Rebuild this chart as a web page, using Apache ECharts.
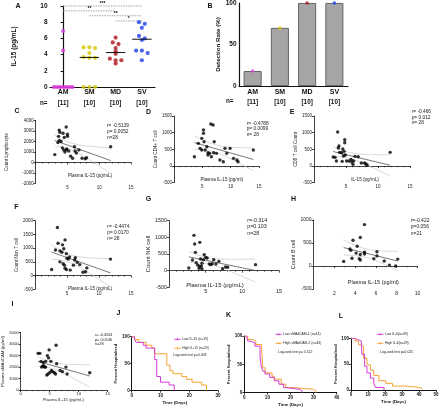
<!DOCTYPE html>
<html><head><meta charset="utf-8">
<script src="https://cdn.jsdelivr.net/npm/echarts@6/dist/echarts.min.js"></script>
<style>html,body{margin:0;padding:0;background:#fff}#c{width:440px;height:410px}</style>
</head><body><div id="c"></div><script>
// ================= DATA =================
const groups = ['AM', 'SM', 'MD', 'SV'];
const groupN = ['[11]', '[10]', '[10]', '[10]'];
const il15AM = [6.9, 4.5, 0, 0, 0, 0, 0, 0, 0, 0, 0];
const il15SM = [4.9, 4.9, 4.8, 4.2, 3.7, 3.6, 3.6, 0, 0, 0];
const il15MD = [6.1, 5.5, 5.3, 4.8, 4.4, 4.1, 3.5, 3.3, 3.3, 2.9];
const il15SV = [8.0, 7.8, 7.3, 6.3, 6.0, 5.8, 4.5, 4.5, 4.2, 3.3];
const sigPairs = [['AM', 'SV', '***'], ['AM', 'MD', '**'], ['SM', 'SV', '**'], ['MD', 'SV', '*']];
const detectionRate = [18, 70, 100, 100];

const lymphocyte = [[3.0,750],[3.5,1900],[3.7,2100],[3.6,2500],[3.8,2900],[3.7,3100],[4.0,2000],[4.3,2800],[4.5,2400],[4.8,3400],[5.0,2700],[5.0,2500],[4.2,1400],[4.4,1200],[4.6,1000],[4.8,1200],[5.2,1100],[4.9,1300],[5.5,600],[5.8,400],[6.1,1500],[6.2,1100],[6.4,900],[6.8,1200],[7.3,400],[7.8,350],[8.0,450],[11.8,1500]];
const cd4 = [[3.6,280],[4.3,680],[4.6,530],[4.9,830],[5.2,980],[5.2,1080],[5.8,580],[5.3,730],[6.5,1260],[6.9,1230],[6.3,380],[6.6,280],[6.0,400],[7.1,730],[7.0,400],[7.5,380],[8.1,180],[8.7,130],[9.0,530],[9.3,380],[9.9,530],[10.5,230],[11.1,180],[11.3,130],[14.0,480],[5.5,480],[6.0,330],[4.9,480]];
const cd8 = [[3.0,270],[3.5,150],[3.7,1020],[3.8,540],[3.9,600],[4.0,410],[4.3,400],[4.5,510],[4.6,300],[4.7,440],[4.8,790],[4.8,700],[4.9,330],[5.1,150],[5.5,150],[5.8,200],[5.9,120],[6.1,50],[6.2,150],[6.4,290],[6.9,280],[7.4,90],[7.9,90],[8.1,60],[8.3,30],[11.9,410],[3.3,260],[4.4,140]];
const nonT = [[2.6,220],[3.5,1750],[3.2,930],[3.6,1180],[3.9,900],[4.2,850],[4.3,1120],[4.5,980],[4.7,1300],[4.9,800],[5.0,630],[5.2,600],[5.4,680],[4.4,430],[4.6,380],[4.7,270],[4.9,220],[5.5,200],[6.0,380],[6.2,570],[6.3,650],[6.6,480],[7.0,400],[7.5,120],[7.9,140],[8.1,280],[11.8,600],[3.9,500]];
const nk = [[2.7,80],[3.4,1060],[3.5,800],[3.6,550],[3.2,320],[3.7,240],[3.9,170],[4.1,70],[4.2,130],[4.2,850],[4.3,350],[4.5,50],[4.5,220],[4.7,330],[4.8,480],[5.0,400],[5.2,380],[5.5,200],[5.7,180],[5.9,210],[6.1,330],[6.4,200],[6.8,280],[7.3,60],[7.7,110],[8.0,100],[11.8,180],[4.4,130]];
const bcell = [[2.9,100],[3.5,370],[3.6,340],[3.7,170],[3.8,560],[4.1,280],[4.2,430],[4.4,160],[4.5,620],[4.5,130],[4.5,250],[4.9,900],[4.9,300],[4.9,260],[5.8,160],[6.1,310],[6.1,220],[6.8,110],[7.3,20],[7.9,0],[8.1,150]];
const smadcam = [[3.0,3200],[3.3,3200],[3.5,2500],[3.6,2000],[3.8,2100],[3.9,2400],[4.0,2100],[4.3,2000],[4.3,2500],[4.5,1300],[4.6,3000],[4.7,1400],[4.8,2800],[4.9,3500],[5.0,1500],[5.2,2500],[5.3,1700],[5.5,1600],[5.8,1500],[6.0,1400],[6.1,3900],[6.2,2300],[6.8,1700],[7.2,1600],[7.8,2000],[8.0,1400],[11.9,1500],[4.1,2000]];

const statsC = ['r= -0.5139', 'p= 0.0052', 'n=28'];
const statsD = ['r= -0.4788', 'p= 0.0099', 'n= 28'];
const statsE = ['r= -0.466', 'p= 0.012', 'n= 28'];
const statsF = ['r= -0.4474', 'p= 0.0170', 'n= 28'];
const statsG = ['r=-0.314', 'p=0.103', 'n=28'];
const statsH = ['r=-0.422', 'p=0.056', 'n=21'];
const statsI = ['r= -0.4564', 'p= 0.0146', 'n=28'];

const lowIL15 = [[0,100],[1,94.7],[1.5,89.5],[4,84.2],[5,78.9],[8,57.9],[8.7,26.3],[10,15.8],[13,10.5],[14.8,0]];
const highIL15 = [[0,100],[1,94.7],[2.5,89.5],[5,84.2],[7,78.9],[8,68.4],[12.2,47.4],[13.3,36.8],[14.4,31.6],[17.4,26.3],[19.1,21.1],[21,15.8],[24.3,10.5],[26,0]];
const lowSMAdCAM = [[0,100],[1,97],[1.5,91],[2.5,88],[4.6,82],[6.8,64],[7.3,47],[8,38],[9,33],[11,27],[13,21],[15,15],[17,9],[18,6],[24,3],[25,0]];
const highSMAdCAM = [[0,100],[1.5,94],[3.5,91],[5,85],[7.5,76],[8,44],[9,35],[12,29],[13,24],[16,15],[18,9],[21,6],[30,3],[31,0]];
const lowIL6 = [[0,100],[2,97.4],[4,94.9],[6,92.3],[6.4,69],[8,46],[9.4,33],[11.4,23],[13.4,13],[14.4,5],[19.4,0]];
const highIL6 = [[0,100],[2.4,94.9],[4.4,87.2],[6,84.6],[7.4,61.5],[9.4,48.7],[11.4,38.5],[13.4,28.2],[16.4,17.9],[20.4,12.8],[24.4,7.7],[31.4,5.1],[40,2.6],[42,2.6]];

// ================= LAYOUT / STYLE =================
const FONT = 'Liberation Sans, Arial, sans-serif';
const groupColors = ['#e03de3', '#d2c800', '#b0141c', '#1c3fe4'];
const MAG = '#d23ad6', ORA = '#f5a234';
const plain = v => String(v);

const grids = [], xAxes = [], yAxes = [], series = [], graphics = [];

function addGrid(r) { grids.push({ left: r[0], top: r[1], width: r[2], height: r[3], containLabel: false, outerBoundsMode: 'none' }); return grids.length - 1; }
function txt(x, y, text, size, opts) {
  opts = opts || {};
  graphics.push({ type: 'text', x: x, y: y, silent: true, z: 50, rotation: opts.rot || 0,
    style: { text: text, fill: opts.color || '#111', fontSize: size, fontFamily: FONT, fontWeight: opts.bold ? 'bold' : 'normal',
      align: opts.align || 'left', verticalAlign: opts.va || 'middle', lineHeight: opts.lh || size * 1.2 } });
}
function tval(df) { return 1.96 + 2.37 / df + 2.8 / (df * df); }
function regress(pts) {
  const n = pts.length; let mx = 0, my = 0;
  pts.forEach(p => { mx += p[0]; my += p[1]; }); mx /= n; my /= n;
  let sxx = 0, sxy = 0; pts.forEach(p => { sxx += (p[0] - mx) ** 2; sxy += (p[0] - mx) * (p[1] - my); });
  const b = sxy / sxx, a = my - b * mx;
  let sse = 0; pts.forEach(p => { sse += (p[1] - a - b * p[0]) ** 2; });
  const s = Math.sqrt(sse / (n - 2)), t = tval(n - 2);
  const xs = pts.map(p => p[0]); const x0 = Math.min(...xs), x1 = Math.max(...xs);
  const up = [], lo = [];
  for (let k = 0; k <= 40; k++) { const x = x0 + (x1 - x0) * k / 40; const se = s * Math.sqrt(1 / n + (x - mx) ** 2 / sxx); up.push([x, a + b * x + t * se]); lo.push([x, a + b * x - t * se]); }
  return { line: [[x0, a + b * x0], [x1, a + b * x1]], up, lo };
}

function scatterPanel(c) {
  const g = addGrid(c.rect);
  const fs = c.fs;
  xAxes.push({ gridIndex: g, type: 'value', min: 0, max: c.xmax, interval: c.xint,
    axisLine: { onZero: true, lineStyle: { color: '#111', width: 0.8 } },
    axisTick: { show: true, length: 2, lineStyle: { color: '#111', width: 0.8 } },
    minorTick: { show: true, splitNumber: c.xminor, length: 1.2, lineStyle: { color: '#111', width: 0.6 } },
    axisLabel: { fontSize: fs, color: '#222', margin: 2, fontFamily: FONT, formatter: v => v === 0 && !c.show0 ? '' : String(v) },
    splitLine: { show: false } });
  const xi = xAxes.length - 1;
  yAxes.push({ gridIndex: g, type: 'value', min: c.ymin, max: c.ymax, interval: c.yint,
    axisLine: { show: true, onZero: false, lineStyle: { color: '#111', width: 0.8 } },
    axisTick: { show: true, length: 2, lineStyle: { color: '#111', width: 0.8 } },
    axisLabel: { fontSize: fs, color: '#222', margin: 2, fontFamily: FONT, formatter: plain },
    splitLine: { show: false },
    name: c.yname, nameLocation: 'middle', nameGap: c.ygap, nameRotate: 90, nameTextStyle: { fontSize: c.nfs, color: '#222', fontFamily: FONT } });
  const yi = yAxes.length - 1;
  const f = regress(c.data);
  series.push({ type: 'line', xAxisIndex: xi, yAxisIndex: yi, data: f.up, symbol: 'none', lineStyle: { color: '#c8c8c8', width: 0.7 }, z: 1, silent: true });
  series.push({ type: 'line', xAxisIndex: xi, yAxisIndex: yi, data: f.lo, symbol: 'none', lineStyle: { color: '#c8c8c8', width: 0.7 }, z: 1, silent: true });
  series.push({ type: 'line', xAxisIndex: xi, yAxisIndex: yi, data: f.line, symbol: 'none', lineStyle: { color: '#555', width: 0.8 }, z: 2, silent: true });
  series.push({ type: 'scatter', xAxisIndex: xi, yAxisIndex: yi, data: c.data, symbolSize: c.ss || 3.4, itemStyle: { color: '#000' }, z: 3, silent: true });
  txt(c.stat[0], c.stat[1], c.stats.join('\n'), c.sfs, { va: 'top', lh: c.slh, color: '#222' });
  const zeroY = c.rect[1] + c.rect[3] * c.ymax / (c.ymax - c.ymin);
  txt(c.xnamePos[0], zeroY + c.xnamePos[1], c.xname, c.nfs, { align: 'center', color: '#222' });
}

function survPanel(c) {
  const g = addGrid(c.rect);
  xAxes.push({ gridIndex: g, type: 'value', min: 0, max: c.xmax, interval: 10,
    axisLine: { onZero: false, lineStyle: { color: '#111', width: 1 } },
    axisTick: { length: 2, lineStyle: { color: '#111', width: 0.8 } },
    axisLabel: { fontSize: 4.6, fontWeight: 'bold', color: '#111', margin: 2.5, fontFamily: FONT },
    splitLine: { show: false },
    name: 'Time (Days)', nameLocation: 'middle', nameGap: c.xgap, nameTextStyle: { fontSize: 4.4, fontWeight: 'bold', color: '#111', fontFamily: FONT } });
  const xi = xAxes.length - 1;
  yAxes.push({ gridIndex: g, type: 'value', min: 0, max: 100, interval: 50,
    axisLine: { show: true, onZero: false, lineStyle: { color: '#111', width: 1 } },
    axisTick: { length: 2, lineStyle: { color: '#111', width: 0.8 } },
    axisLabel: { fontSize: 4.6, fontWeight: 'bold', color: '#111', margin: 2, fontFamily: FONT },
    splitLine: { show: false },
    name: 'Percent Hospitalised', nameLocation: 'middle', nameGap: c.ygap, nameTextStyle: { fontSize: 4.0, fontWeight: 'bold', color: '#111', fontFamily: FONT } });
  const yi = yAxes.length - 1;
  series.push({ type: 'line', step: 'end', xAxisIndex: xi, yAxisIndex: yi, data: c.high, symbol: 'none', lineStyle: { color: ORA, width: 1 }, silent: true });
  series.push({ type: 'line', step: 'end', xAxisIndex: xi, yAxisIndex: yi, data: c.low, symbol: 'none', lineStyle: { color: MAG, width: 1 }, silent: true });
  const [lx, ly] = c.leg;
  [[MAG, c.names[0], 0], [ORA, c.names[1], 9]].forEach(([col, nm, dy]) => {
    graphics.push({ type: 'line', shape: { x1: lx - 8, y1: ly + dy, x2: lx - 1.5, y2: ly + dy }, style: { stroke: col, lineWidth: 0.9 }, silent: true });
    graphics.push({ type: 'circle', shape: { cx: lx - 4.7, cy: ly + dy, r: 0.9 }, style: { fill: col }, silent: true });
    txt(lx, ly + dy, nm, 3.4, { color: '#222' });
  });
  txt(c.lr[0], c.lr[1], c.lrText, 3.4, { color: '#222' });
}

const richCat = { g: { fontSize: 7, fontWeight: 'bold', lineHeight: 9, fontFamily: FONT, color: '#111' }, n: { fontSize: 6.3, fontWeight: 'bold', lineHeight: 12, fontFamily: FONT, color: '#111' } };

// ---------- Panel A ----------
const gA = addGrid([50, 6, 105, 81]);
xAxes.push({ gridIndex: gA, type: 'value', position: 'bottom', min: -0.5, max: 3.5, axisLine: { onZero: true, lineStyle: { color: '#111', width: 1.2 } }, axisTick: { show: false }, axisLabel: { show: false }, splitLine: { show: false } });
const xA = xAxes.length - 1;
xAxes.push({ gridIndex: gA, type: 'category', position: 'bottom', data: groups, axisLine: { show: false }, axisTick: { show: false },
  axisLabel: { margin: 1, interval: 0, hideOverlap: false, formatter: (v, i) => '{g|' + v + '}\n{n|' + groupN[i] + '}', rich: richCat } });
yAxes.push({ gridIndex: gA, type: 'value', min: 0, max: 10, interval: 2,
  axisLine: { show: true, lineStyle: { color: '#111', width: 1.2 } }, axisTick: { length: 2.5, lineStyle: { color: '#111', width: 1 } },
  axisLabel: { fontSize: 6.5, fontWeight: 'bold', color: '#111', margin: 2.5, fontFamily: FONT }, splitLine: { show: false },
  name: 'IL-15 (pg/mL)', nameLocation: 'middle', nameGap: 33, nameTextStyle: { fontSize: 6.4, fontWeight: 'bold', color: '#111', fontFamily: FONT } });
const yA = yAxes.length - 1;

function beeswarm(vals, spacing, maxHalf, tol) {
  const idx = vals.map((v, i) => i).sort((a, b) => vals[b] - vals[a]);
  const out = new Array(vals.length); let i = 0;
  while (i < idx.length) {
    let j = i; while (j + 1 < idx.length && Math.abs(vals[idx[j + 1]] - vals[idx[i]]) <= tol) j++;
    const k = j - i + 1; const sp = k > 1 ? Math.min(spacing, 2 * maxHalf / (k - 1)) : 0;
    for (let m = 0; m < k; m++) out[idx[i + m]] = (m - (k - 1) / 2) * sp;
    i = j + 1;
  }
  return out;
}
function median(a) { const s = a.slice().sort((x, y) => x - y); const n = s.length; return n % 2 ? s[(n - 1) / 2] : (s[n / 2 - 1] + s[n / 2]) / 2; }
[il15AM, il15SM, il15MD, il15SV].forEach((vals, gi) => {
  const jit = beeswarm(vals, 0.22, 0.36, 0.3);
  const m = median(vals);
  series.push({ type: 'line', xAxisIndex: xA, yAxisIndex: yA, data: [[gi - 0.37, m], [gi + 0.37, m]], symbol: 'none', lineStyle: { color: '#111', width: 1 }, z: gi === 0 ? 1 : 4, silent: true });
  series.push({ type: 'scatter', xAxisIndex: xA, yAxisIndex: yA, data: vals.map((v, k) => [gi + jit[k], v]), symbolSize: 4.2, itemStyle: { color: groupColors[gi] }, z: 3, silent: true, clip: false });
});
const sigLevels = [10, 9.4, 8.8, 8.15];
sigPairs.forEach((p, k) => {
  const a = groups.indexOf(p[0]), b = groups.indexOf(p[1]), yv = sigLevels[k];
  series.push({ type: 'line', xAxisIndex: xA, yAxisIndex: yA, data: [[a, yv], [b, yv]], symbol: 'none', clip: false,
    lineStyle: { color: '#9a9a9a', width: 0.9, type: [1.5, 1] }, silent: true,
    markPoint: { symbol: 'circle', symbolSize: 0, data: [{ coord: [(a + b) / 2, yv], value: p[2] }],
      label: { show: true, formatter: p[2], fontSize: 5, color: '#111', fontWeight: 'bold', offset: [0, -2.5], fontFamily: FONT } } });
});
txt(40, 103, 'n=', 6.3, { bold: true });

// ---------- Panel B ----------
const gB = addGrid([239, 3, 109, 83]);
xAxes.push({ gridIndex: gB, type: 'category', position: 'bottom', data: groups, axisLine: { lineStyle: { color: '#111', width: 1.2 } }, axisTick: { show: false },
  axisLabel: { margin: 1.5, interval: 0, hideOverlap: false, formatter: (v, i) => '{g|' + v + '}\n{n|' + groupN[i] + '}', rich: richCat } });
const xB = xAxes.length - 1;
yAxes.push({ gridIndex: gB, type: 'value', min: 0, max: 100, interval: 50,
  axisLine: { show: true, lineStyle: { color: '#111', width: 1.2 } }, axisTick: { length: 2.5, lineStyle: { color: '#111', width: 1 } },
  axisLabel: { fontSize: 6.5, fontWeight: 'bold', color: '#111', margin: 2.5, fontFamily: FONT }, splitLine: { show: false },
  name: 'Detection Rate (%)', nameLocation: 'middle', nameGap: 14, nameTextStyle: { fontSize: 6.2, fontWeight: 'bold', color: '#111', fontFamily: FONT } });
const yB = yAxes.length - 1;
series.push({ type: 'bar', xAxisIndex: xB, yAxisIndex: yB, data: detectionRate, barWidth: 18, itemStyle: { color: '#a5a5a5', borderColor: '#5a5a5a', borderWidth: 0.9 }, silent: true });
series.push({ type: 'scatter', xAxisIndex: xB, yAxisIndex: yB, data: detectionRate.map((v, i) => ({ value: [i, v], itemStyle: { color: groupColors[i] } })), symbolSize: 3.5, z: 5, silent: true, clip: false });
txt(226, 101, 'n=', 6.3, { bold: true });

// ---------- Scatter panels ----------
scatterPanel({ rect: [35.7, 120.7, 95.3, 62.6], data: lymphocyte, xmax: 15, xint: 5, xminor: 5, ymin: -2000, ymax: 4000, yint: 1000, fs: 4.5, nfs: 4.6,
  xname: 'Plasma IL-15 (pg/mL)', xnamePos: [90, 13.4], yname: 'Count Lymphocyte', ygap: 26, stats: statsC, stat: [107, 122.5], sfs: 4.8, slh: 6.2 });
scatterPanel({ rect: [174, 116, 85, 66.7], data: cd4, xmax: 15, xint: 5, xminor: 5, ymin: -500, ymax: 1500, yint: 500, fs: 4.5, nfs: 4.6,
  xname: 'Plasma IL-15 (pg/ml)', xnamePos: [221.7, 14], yname: 'Count CD4+ T cell', ygap: 14, stats: statsD, stat: [246.7, 120.5], sfs: 4.8, slh: 5.6 });
scatterPanel({ rect: [314, 116, 96, 66.7], data: cd8, xmax: 15, xint: 5, xminor: 5, ymin: -500, ymax: 1500, yint: 500, fs: 4.5, nfs: 4.6,
  xname: 'IL-15 (pg/mL)', xnamePos: [365, 13.3], yname: 'CD8 T cell Count', ygap: 14, stats: statsE, stat: [411.7, 108.5], sfs: 4.8, slh: 5.8 });
scatterPanel({ rect: [35, 220.7, 96, 68.6], data: nonT, xmax: 15, xint: 5, xminor: 5, ymin: -500, ymax: 2000, yint: 500, fs: 4.5, nfs: 4.6,
  xname: 'Plasma IL-15 (pg/mL)', xnamePos: [90, 13.6], yname: 'Count Non T cell', ygap: 14, stats: statsF, stat: [107.3, 224], sfs: 4.8, slh: 5.8 });
scatterPanel({ rect: [169, 220.7, 110, 66.6], data: nk, xmax: 15, xint: 5, xminor: 5, ymin: -500, ymax: 1500, yint: 500, fs: 5.4, nfs: 6,
  xname: 'Plasma IL-15 (pg/mL)', xnamePos: [215, 14.3], yname: 'Count NK cell', ygap: 15, stats: statsG, stat: [247.3, 217], sfs: 5.3, slh: 6.6 });
scatterPanel({ rect: [313.5, 220, 104, 69], data: bcell, xmax: 10, xint: 2, xminor: 2, ymin: -500, ymax: 1000, yint: 500, fs: 5, nfs: 5.5,
  xname: 'Plasma IL-15 (pg/ml)', xnamePos: [373.3, 16], yname: 'Count B cell', ygap: 14, stats: statsH, stat: [410.7, 217], sfs: 5, slh: 6.6 });
scatterPanel({ rect: [20.7, 332.7, 87, 57.3], data: smadcam, xmax: 15, xint: 5, xminor: 5, ymin: 0, ymax: 5000, yint: 1000, fs: 4.3, nfs: 4.3, show0: true,
  xname: 'Plasma IL-15 (pg/mL)', xnamePos: [63.3, 10], yname: 'Plasma sMAdCAM (pg/ml)', ygap: 11, stats: statsI, stat: [95, 333], sfs: 3.8, slh: 4.3 });

// ---------- Survival panels ----------
survPanel({ rect: [131.7, 336.7, 86.3, 54], xmax: 30, low: lowIL15, high: highIL15, names: ['Low IL-15 (n=19)', 'High IL-15 (n=19)'], leg: [182.3, 339.3], lr: [173.3, 355.5], lrText: 'Log-rank test p=0.008', xgap: 10, ygap: 10 });
survPanel({ rect: [244.3, 336, 92.4, 56.7], xmax: 40, low: lowSMAdCAM, high: highSMAdCAM, names: ['Low sMAdCAM-1 (n=34)', 'High sMAdCAM-1 (n=34)'], leg: [283.3, 334.3], lr: [278.3, 352], lrText: 'Log-rank test p= 0.512', xgap: 10, ygap: 11 });
survPanel({ rect: [351, 338.3, 85, 51.7], xmax: 50, low: lowIL6, high: highIL6, names: ['Low IL-6(n=39)', 'High IL-6(n=39)'], leg: [385, 334.3], lr: [380, 352], lrText: 'Log-rank test p=0.025', xgap: 10, ygap: 11 });

// ---------- Panel letters ----------
[['A', 18, 6], ['B', 210, 6], ['C', 17, 111.5], ['D', 148.5, 112], ['E', 292, 112], ['F', 16.5, 207.5], ['G', 148.5, 199.5], ['H', 293.5, 199.5], ['I', 12.5, 304.5], ['J', 118.5, 313.5], ['K', 228.5, 315], ['L', 341, 316]]
  .forEach(([t, x, y]) => txt(x, y, t, 7, { bold: true, align: 'center' }));

const chart = echarts.init(document.getElementById('c'), null, { renderer: 'canvas' });
chart.setOption({ animation: false, backgroundColor: '#fff', grid: grids, xAxis: xAxes, yAxis: yAxes, series: series, graphic: graphics });
</script></body></html>
